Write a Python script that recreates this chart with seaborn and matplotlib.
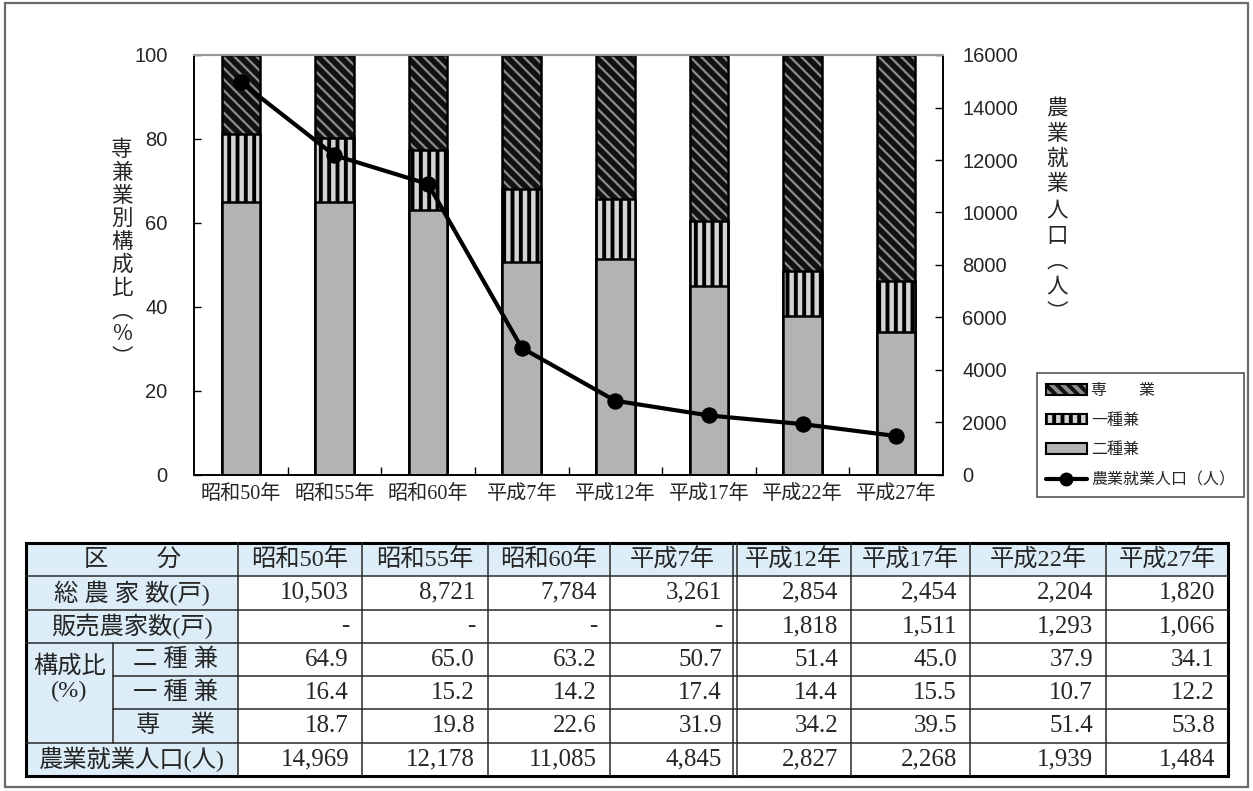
import numpy as np
import pandas as pd
import matplotlib
matplotlib.use("Agg")
import matplotlib.pyplot as plt
from matplotlib.patches import Rectangle, Patch
from matplotlib.lines import Line2D
from matplotlib.legend_handler import HandlerTuple
from matplotlib.font_manager import FontProperties
import seaborn as sns

# ---- data ----
years = ["昭和50年", "昭和55年", "昭和60年", "平成7年",
         "平成12年", "平成17年", "平成22年", "平成27年"]
total_farms = [10503, 8721, 7784, 3261, 2854, 2454, 2204, 1820]
sales_farms = [None, None, None, None, 1818, 1511, 1293, 1066]
part_time_2 = [64.9, 65.0, 63.2, 50.7, 51.4, 45.0, 37.9, 34.1]   # 二種兼
part_time_1 = [16.4, 15.2, 14.2, 17.4, 14.4, 15.5, 10.7, 12.2]   # 一種兼
full_time = [18.7, 19.8, 22.6, 31.9, 34.2, 39.5, 51.4, 53.8]     # 専業
farm_workers = [14969, 12178, 11085, 4845, 2827, 2268, 1939, 1484]

W, H = 1253, 791
sns.set_style("ticks")
plt.rcParams["font.family"] = ["Liberation Sans", "Noto Sans CJK JP", "DejaVu Sans"]
plt.rcParams["hatch.linewidth"] = 2.8
CJK = ["Noto Sans CJK JP", "DejaVu Sans"]
SERIF = ["Liberation Serif", "Noto Sans CJK JP", "DejaVu Sans"]

fig = plt.figure(figsize=(W / 100, H / 100), dpi=100)
fig.patch.set_facecolor("white")

# chart area
L, R, T, B = 194, 943, 55, 475
ax = fig.add_axes([L / W, 1 - B / H, (R - L) / W, (B - T) / H])

df = pd.DataFrame({"year": years, "p2": part_time_2, "p1": part_time_1, "ft": full_time})
df["top_p1"] = df["p2"] + df["p1"]
df["top_ft"] = df["top_p1"] + df["ft"]

bar_w = 0.41
FULL_FACE, FULL_HATCH = "#111111", "#8c8c8c"
P1_FACE = "#d4d4d4"
P2_FACE = "#b3b3b3"


def set_hatch_lw(patches, lw):
    for p in patches:
        if hasattr(p, "set_hatch_linewidth"):
            p.set_hatch_linewidth(lw)


# 専業 (top segment): dark face with light diagonal stripes
n0 = len(ax.patches)
sns.barplot(data=df, x="year", y="top_ft", ax=ax, color=FULL_FACE, saturation=1,
            edgecolor=FULL_HATCH, hatch="\\\\\\", linewidth=0, width=bar_w, errorbar=None)
set_hatch_lw(ax.patches[n0:], 1.6)
sns.barplot(data=df, x="year", y="top_ft", ax=ax, color="black", fill=False,
            edgecolor="black", linewidth=1.8, width=bar_w, errorbar=None)
# 一種兼: vertical stripes
n0 = len(ax.patches)
sns.barplot(data=df, x="year", y="top_p1", ax=ax, color=P1_FACE, saturation=1,
            edgecolor="black", hatch="||", linewidth=1.8, width=bar_w, errorbar=None)
set_hatch_lw(ax.patches[n0:], 2.8)
# 二種兼: plain gray
sns.barplot(data=df, x="year", y="p2", ax=ax, color=P2_FACE, saturation=1,
            edgecolor="black", linewidth=1.8, width=bar_w, errorbar=None)

ax.set_xlim(-0.5, len(years) - 0.5)
ax.set_ylim(0, 100)
ax.set_yticks(np.arange(0, 101, 20))
ax.set_xticks(range(len(years)))
ax.set_xticklabels(years, fontfamily=SERIF, fontsize=14.5)
ax.set_xticks(np.arange(0.5, len(years) - 1, 1.0), minor=True)
ax.tick_params(axis="x", which="major", length=0, pad=7)
ax.tick_params(axis="x", which="minor", direction="in", length=6, width=1, color="black")
ax.tick_params(axis="y", direction="in", length=5, width=1, pad=19, labelsize=14.5,
               color="black")
ax.set_xlabel("")
ax.set_ylabel("")

# farm workers line on the secondary axis
ax2 = ax.twinx()
sns.lineplot(x=np.arange(len(years)), y=farm_workers, ax=ax2, color="black",
             linewidth=3, marker="o", markersize=11, markeredgecolor="black")
ax2.set_ylim(0, 16000)
ax2.set_yticks(np.arange(0, 16001, 2000))
ax2.tick_params(axis="y", direction="in", length=6, width=1, pad=14, labelsize=14.5,
                color="black")
ax2.set_ylabel("")
ax.set_xlim(-0.5, len(years) - 0.5)

for a in (ax, ax2):
    for side in ("left", "bottom", "right"):
        a.spines[side].set_color("black")
        a.spines[side].set_linewidth(1.2)
    a.spines["top"].set_color("#9a9a9a")
    a.spines["top"].set_linewidth(1.5)

# overlay in pixel coordinates for table, axis titles and frame
ov = fig.add_axes([0, 0, 1, 1])
ov.set_xlim(0, W)
ov.set_ylim(H, 0)
ov.set_axis_off()

ov.add_patch(Rectangle((5, 3), W - 10, H - 7, fill=False, edgecolor="#6a6a6a", lw=1.6))


def vertical_label(x, y0, step, chars, size):
    for i, ch in enumerate(chars):
        ov.text(x, y0 + i * step, ch, ha="center", va="center", fontsize=size,
                fontfamily=CJK)


vertical_label(122, 150, 23, "専兼業別構成比︵%︶", 15.5)
vertical_label(1057, 108, 25.5, "農業就業人口︵人︶", 15.5)

# legend
h_full = (Patch(facecolor=FULL_FACE, edgecolor=FULL_HATCH, hatch="\\\\\\", lw=0),
          Patch(facecolor="none", edgecolor="black", lw=1.5))
set_hatch_lw([h_full[0]], 1.6)
h_p1 = Patch(facecolor=P1_FACE, edgecolor="black", hatch="||", lw=1.5)
set_hatch_lw([h_p1], 2.8)
h_p2 = Patch(facecolor=P2_FACE, edgecolor="black", lw=1.5)
h_line = Line2D([], [], color="black", lw=3, marker="o", markersize=9)
leg = fig.legend([h_full, h_p1, h_p2, h_line],
                 ["専　　業", "一種兼", "二種兼", "農業就業人口（人）"],
                 loc="upper right", bbox_to_anchor=(1244 / W, 1 - 373 / H),
                 borderaxespad=0, frameon=True, fancybox=False, framealpha=1,
                 edgecolor="#555555", handlelength=2.6, handleheight=0.65,
                 handletextpad=0.25, labelspacing=0.8, borderpad=0.55,
                 prop=FontProperties(family=CJK, size=11.5),
                 handler_map={tuple: HandlerTuple(ndivide=1, pad=0)})
leg.get_frame().set_linewidth(1.2)

# ---- table ----
col_x = [26, 238, 362, 488, 610, 735, 851, 970, 1106, 1228]
row_y = np.linspace(543, 776, 8)
sub_x = 113
BLUE = "#dcedf8"
TFS = 17.5

ov.add_patch(Rectangle((col_x[0], row_y[0]), col_x[-1] - col_x[0], row_y[1] - row_y[0],
                       facecolor=BLUE, edgecolor="none"))
ov.add_patch(Rectangle((col_x[0], row_y[0]), col_x[1] - col_x[0], row_y[-1] - row_y[0],
                       facecolor=BLUE, edgecolor="none"))

line_c = "#2a2a2a"
for i in range(1, 7):
    x0 = sub_x if i in (4, 5) else col_x[0]
    ov.plot([x0, col_x[-1]], [row_y[i], row_y[i]], color=line_c, lw=1.1)
for j in range(1, len(col_x) - 1):
    if j == 5:
        for dx in (-2, 2):
            ov.plot([col_x[j] + dx] * 2, [row_y[0], row_y[-1]], color=line_c, lw=1.1)
    else:
        ov.plot([col_x[j]] * 2, [row_y[0], row_y[-1]], color=line_c, lw=1.1)
ov.plot([sub_x, sub_x], [row_y[3], row_y[6]], color=line_c, lw=1.1)
ov.add_patch(Rectangle((col_x[0], row_y[0]), col_x[-1] - col_x[0], row_y[-1] - row_y[0],
                       fill=False, edgecolor="black", lw=2.2))


def cell_text(x, y, s, ha="center", size=TFS):
    ov.text(x, y, s, ha=ha, va="center", fontsize=size, fontfamily=SERIF)


def rmid(i):
    return (row_y[i] + row_y[i + 1]) / 2


label_mid = (col_x[0] + col_x[1]) / 2
sub_mid = (sub_x + col_x[1]) / 2
cell_text(label_mid, rmid(0), "区　　分")
cell_text(label_mid, rmid(1), "総 農 家 数(戸)")
cell_text(label_mid, rmid(2), "販売農家数(戸)")
cell_text((col_x[0] + sub_x) / 2, row_y[4] + 2, "構成比\n(%)")
cell_text(sub_mid, rmid(3), "二 種 兼")
cell_text(sub_mid, rmid(4), "一 種 兼")
cell_text(sub_mid, rmid(5), "専　 業")
cell_text(label_mid, rmid(6), "農業就業人口(人)")

rows = [
    [f"{v:,}" for v in total_farms],
    ["-" if v is None else f"{v:,}" for v in sales_farms],
    [f"{v:.1f}" for v in part_time_2],
    [f"{v:.1f}" for v in part_time_1],
    [f"{v:.1f}" for v in full_time],
    [f"{v:,}" for v in farm_workers],
]
for j, yr in enumerate(years):
    cx0, cx1 = col_x[j + 1], col_x[j + 2]
    cell_text((cx0 + cx1) / 2, rmid(0), yr)
    for r, vals in enumerate(rows):
        cell_text(cx1 - 13, rmid(r + 1), vals[j], ha="right", size=18)

fig.savefig("out.png", dpi=100, facecolor="white")
